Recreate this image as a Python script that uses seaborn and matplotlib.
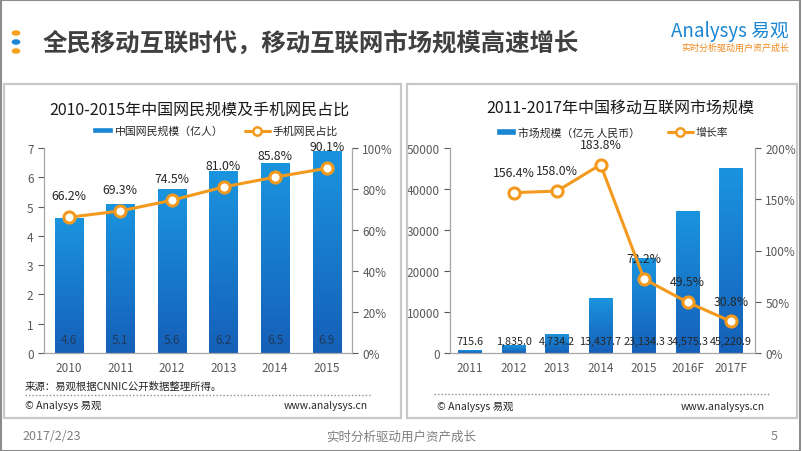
import numpy as np
import matplotlib
matplotlib.use("Agg")
import matplotlib.pyplot as plt
import seaborn as sns
import pandas as pd
from matplotlib.patches import Rectangle, Patch
from matplotlib.lines import Line2D

sns.set_style("white")
plt.rcParams['font.family'] = ['Noto Sans CJK SC', 'DejaVu Sans']

# ---- data ----
years_l = ["2010", "2011", "2012", "2013", "2014", "2015"]
netizens = [4.6, 5.1, 5.6, 6.2, 6.5, 6.9]          # 亿人
mobile_share = [66.2, 69.3, 74.5, 81.0, 85.8, 90.1]  # %

years_r = ["2011", "2012", "2013", "2014", "2015", "2016F", "2017F"]
market = [715.6, 1835.0, 4734.2, 13437.7, 23134.3, 34575.3, 45220.9]  # 亿元
growth = [np.nan, 156.4, 158.0, 183.8, 72.2, 49.5, 30.8]               # %

BLUE = "#1a86d3"
ORANGE = "#f39a1e"
GRAY = "#595959"

W, H = 802, 452
fig = plt.figure(figsize=(8.02, 4.52), dpi=100)


def px(x0, y0, x1, y1):
    # pixel box (top-left origin) -> figure fraction rect
    return [x0 / W, 1 - y1 / H, (x1 - x0) / W, (y1 - y0) / H]


def gradient_bars(ax):
    grad = np.linspace(0, 1, 100).reshape(-1, 1)
    cmap = matplotlib.colors.LinearSegmentedColormap.from_list("b", ["#1560b8", "#1b94de"])
    for p in ax.patches:
        x, y = p.get_x(), p.get_y()
        w, h = p.get_width(), p.get_height()
        im = ax.imshow(grad, extent=[x, x + w, y, y + h], origin="lower",
                       cmap=cmap, aspect="auto", zorder=p.get_zorder())
        im.set_clip_path(p)


def style_axes(ax, ax2):
    for a in (ax, ax2):
        for s in a.spines.values():
            s.set_visible(False)
        a.tick_params(colors=GRAY, labelsize=8.5, length=4, width=0.8)
    ax.spines["left"].set_visible(True)
    ax.spines["bottom"].set_visible(True)
    ax2.spines["right"].set_visible(True)
    for s in (ax.spines["left"], ax.spines["bottom"], ax2.spines["right"]):
        s.set_color("#a6a6a6")
        s.set_linewidth(0.9)
    ax.tick_params(axis="x", length=0, pad=6, labelsize=8.5)
    ax.tick_params(axis="y", left=True, direction="out")
    ax2.tick_params(axis="y", right=True, direction="out")
    ax.set_xlabel("")
    ax.set_ylabel("")
    ax2.set_ylabel("")


def legend_item(handle, x, y, fs, hl):
    # one legend entry, its handle starting at pixel x
    fig.legend(handles=[handle], loc="center left", bbox_to_anchor=(x / W, 1 - y / H),
               frameon=False, fontsize=fs, handlelength=hl, handleheight=0.5,
               handletextpad=0.2, borderpad=0, borderaxespad=0, labelcolor="#262626")


bar_handle = lambda lab: Patch(facecolor=BLUE, label=lab)
line_handle = lambda lab: Line2D([], [], color=ORANGE, lw=2.2, marker="o", markersize=6,
                                 markerfacecolor="white", markeredgewidth=1.8, label=lab)

# ---- slide frame ----
fig.patches.append(Rectangle((0.001, 0.001), 0.997, 0.997, transform=fig.transFigure,
                             fill=False, edgecolor="#8c8c8c", linewidth=1.5))
for box in [(4, 85, 401, 419), (407, 85, 797, 419)]:
    r = px(*box)
    fig.patches.append(Rectangle((r[0], r[1]), r[2], r[3], transform=fig.transFigure,
                                 fill=False, edgecolor="#c8c8c8", linewidth=1.6))

# header
for yy, c in [(34, "#f7a21c"), (43, "#1a86d3"), (52, "#f7a21c")]:
    fig.patches.append(matplotlib.patches.Circle((16 / W, 1 - yy / H), 3.6 / W,
                       transform=fig.transFigure, color=c))
fig.text(43 / W, 1 - 43 / H, "全民移动互联时代，移动互联网市场规模高速增长",
         fontsize=17.6, fontweight="bold", color="#404040", va="center", ha="left")
fig.text(789 / W, 1 - 31 / H, "Analysys 易观", fontsize=13.5, color="#1a86d3",
         va="center", ha="right", style="italic")
fig.text(789 / W, 1 - 48 / H, "实时分析驱动用户资产成长", fontsize=6.5, color="#f08a1e",
         va="center", ha="right")

# footer
fig.text(22 / W, 1 - 437 / H, "2017/2/23", fontsize=9, color="#7f7f7f", va="center")
fig.text(401 / W, 1 - 437 / H, "实时分析驱动用户资产成长", fontsize=9, color="#7f7f7f",
         va="center", ha="center")
fig.text(778 / W, 1 - 437 / H, "5", fontsize=9, color="#7f7f7f", va="center", ha="right")

# ---- left chart ----
ax = fig.add_axes(px(44, 149, 352, 354))
df_l = pd.DataFrame({"year": years_l, "val": netizens})
sns.barplot(data=df_l, x="year", y="val", color=BLUE, width=0.55, ax=ax,
            saturation=1, zorder=2)
gradient_bars(ax)
ax.set_xlim(-0.48, 5.49)
ax.set_ylim(0, 7)
ax.set_yticks(range(0, 8))
for i, v in enumerate(netizens):
    ax.text(i, 0.24, f"{v:.1f}", ha="center", va="bottom", fontsize=8.5,
            color="#1f3a5a", zorder=5)

ax2 = ax.twinx()
sns.lineplot(x=np.arange(len(years_l)), y=mobile_share, ax=ax2, color=ORANGE,
             linewidth=2.2, marker="o", markersize=8, markerfacecolor="white",
             markeredgecolor=ORANGE, markeredgewidth=2.2, zorder=4)
ax2.set_ylim(0, 100)
ax2.set_yticks(range(0, 101, 20))
ax2.set_yticklabels([f"{t}%" for t in range(0, 101, 20)])
for i, v in enumerate(mobile_share):
    ax2.annotate(f"{v:.1f}%", (i, v), xytext=(0, 11), textcoords="offset points",
                 ha="center", va="bottom", fontsize=8.8, color="#262626")
style_axes(ax, ax2)

fig.text(199 / W, 1 - 110 / H, "2010-2015年中国网民规模及手机网民占比", fontsize=11.5,
         color="#1a1a1a", ha="center", va="center")
legend_item(bar_handle("中国网民规模（亿人）"), 92, 132, 7.8, 1.9)
legend_item(line_handle("手机网民占比"), 245, 132, 7.8, 2.3)

fig.text(25 / W, 1 - 387 / H, "来源：易观根据CNNIC公开数据整理所得。", fontsize=7.5,
         color="#262626", va="center")
fig.add_artist(Line2D([25 / W, 372 / W], [1 - 396 / H] * 2, color="#8c8c8c",
                      lw=1, linestyle=(0, (1, 1.5))))
fig.text(25 / W, 1 - 406 / H, "© Analysys 易观", fontsize=7.5, color="#262626", va="center")
fig.text(368 / W, 1 - 406 / H, "www.analysys.cn", fontsize=7.5, color="#262626",
         va="center", ha="right")

# ---- right chart ----
bx = fig.add_axes(px(450, 149, 755, 354))
df_r = pd.DataFrame({"year": years_r, "val": market})
sns.barplot(data=df_r, x="year", y="val", color=BLUE, width=0.55, ax=bx,
            saturation=1, zorder=2)
gradient_bars(bx)
bx.set_xlim(-0.46, 6.55)
bx.set_ylim(0, 50000)
bx.set_yticks(range(0, 50001, 10000))
for i, v in enumerate(market):
    bx.text(i, 1800, f"{v:,.1f}", ha="center", va="bottom", fontsize=7.8,
            color="#262626", zorder=5)

bx2 = bx.twinx()
sns.lineplot(x=np.arange(len(years_r)), y=growth, ax=bx2, color=ORANGE,
             linewidth=2.2, marker="o", markersize=8, markerfacecolor="white",
             markeredgecolor=ORANGE, markeredgewidth=2.2, zorder=4)
bx2.set_ylim(0, 200)
bx2.set_yticks(range(0, 201, 50))
bx2.set_yticklabels([f"{t}%" for t in range(0, 201, 50)])
for i, v in enumerate(growth):
    if not np.isnan(v):
        bx2.annotate(f"{v:.1f}%", (i, v), xytext=(0, 10), textcoords="offset points",
                     ha="center", va="bottom", fontsize=8.8, color="#262626")
style_axes(bx, bx2)

fig.text(620 / W, 1 - 108 / H, "2011-2017年中国移动互联网市场规模", fontsize=11.5,
         color="#1a1a1a", ha="center", va="center")
legend_item(bar_handle("市场规模（亿元 人民币）"), 496, 133, 7.8, 1.8)
legend_item(line_handle("增长率"), 668, 133, 7.8, 2.3)

fig.add_artist(Line2D([434 / W, 770 / W], [1 - 395 / H] * 2, color="#8c8c8c",
                      lw=1, linestyle=(0, (1, 1.5))))
fig.text(437 / W, 1 - 407 / H, "© Analysys 易观", fontsize=7.5, color="#262626", va="center")
fig.text(765 / W, 1 - 407 / H, "www.analysys.cn", fontsize=7.5, color="#262626",
         va="center", ha="right")

fig.savefig("out.png", dpi=100)
